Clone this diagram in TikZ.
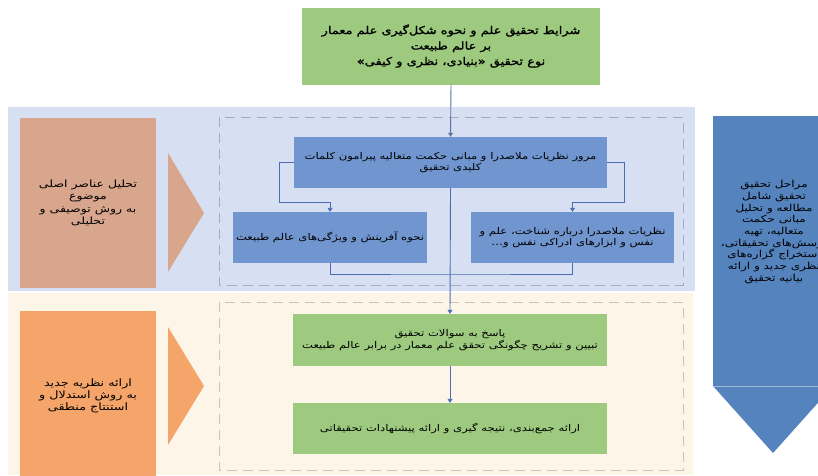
\documentclass[tikz,border=0pt]{standalone}
\usepackage{fontspec}
\TeXXeTstate=1
\newfontfamily\arabicfont[Script=Arabic,FakeStretch=1.25]{DejaVu Sans}
\newfontfamily\arabicbold[Script=Arabic,FakeStretch=1.2,FakeBold=1.2]{DejaVu Sans}
\usetikzlibrary{arrows.meta}
\newcommand\rl[1]{\beginR #1\endR}
\definecolor{bandblue}{HTML}{D7E0F2}
\definecolor{bandbeige}{HTML}{FDF5E7}
\definecolor{boxblue}{HTML}{7095CF}
\definecolor{boxgreen}{HTML}{9DCA7E}
\definecolor{boxbrown}{HTML}{D8A58D}
\definecolor{boxorange}{HTML}{F5A56A}
\definecolor{arrowblue}{HTML}{5483BD}
\definecolor{connblue}{HTML}{4A6DB2}
\definecolor{dashgray}{HTML}{A3ACBF}
\definecolor{dashbeige}{HTML}{C9C3B8}
\tikzset{
  txt/.style={align=center, inner sep=0pt, text=black},
  bluebox/.style={txt, fill=boxblue, font=\arabicfont\fontsize{9.3}{11.8}\selectfont},
  greenbox/.style={txt, fill=boxgreen, font=\arabicfont\fontsize{9.3}{12.5}\selectfont},
  conn/.style={draw=connblue, line width=0.9pt},
  connarrow/.style={conn, -{Triangle[width=5pt,length=4pt]}},
  dashframe/.style={dash pattern=on 10pt off 6pt, line width=0.8pt},
}
\begin{document}
\begin{tikzpicture}[x=1pt,y=-1pt]
\clip (0,0) rectangle (818,475);
\fill[white] (0,0) rectangle (818,475);
% bands
\fill[bandblue] (8,107) rectangle (695,291);
\fill[bandbeige] (8,293) rectangle (693,475);
% dashed frames
\draw[dashframe, draw=dashgray] (219,117) rectangle (683,285);
\draw[dashframe, draw=dashbeige] (219,302) rectangle (683,470);
% top green box
\node[greenbox, minimum width=298pt, minimum height=77pt, font=\arabicbold\fontsize{10.8}{15.5}\selectfont] (top) at (451,46)
  {\rl{شرایط تحقیق علم و نحوه شکل‌گیری علم معمار}\\\rl{بر عالم طبیعت}\\\rl{نوع تحقیق «بنیادی، نظری و کیفی»}};
% left boxes
\node[txt, fill=boxbrown, minimum width=136pt, minimum height=170pt, font=\arabicfont\fontsize{10}{12.3}\selectfont] (brown) at (88,203)
  {\rl{تحلیل عناصر اصلی}\\\rl{موضوع}\\\rl{به روش توصیفی و}\\\rl{تحلیلی}};
\fill[boxbrown] (168,153) -- (204,213) -- (168,272) -- cycle;
\node[txt, fill=boxorange, minimum width=136pt, minimum height=170pt, font=\arabicfont\fontsize{10.2}{12}\selectfont] (orange) at (88,396)
  {\rl{ارائه نظریه جدید}\\\rl{به روش استدلال و}\\\rl{استنتاج منطقی}};
\fill[boxorange] (168,327) -- (204,386) -- (168,445) -- cycle;
% blue boxes
\node[bluebox, minimum width=313pt, minimum height=51pt] (b1) at (450.5,162.5)
  {\rl{مرور نظریات ملاصدرا و مبانی حکمت متعالیه  پیرامون کلمات}\\\rl{کلیدی تحقیق}};
\node[bluebox, minimum width=194pt, minimum height=51pt] (b2) at (330,237.5)
  {\rl{نحوه آفرینش و ویژگی‌های عالم طبیعت}};
\node[bluebox, minimum width=203pt, minimum height=51pt] (b3) at (572.5,237.5)
  {\rl{نظریات ملاصدرا درباره شناخت، علم و}\\\rl{نفس و ابزارهای ادراکی نفس و\dots}};
% green boxes
\node[greenbox, minimum width=314pt, minimum height=52pt] (g1) at (450,340)
  {\rl{پاسخ به سوالات تحقیق}\\\rl{تبیین و تشریح چگونگی تحقق علم معمار در برابر عالم طبیعت}};
\node[greenbox, minimum width=314pt, minimum height=51pt] (g2) at (450,428.5)
  {\rl{ارائه جمع‌بندی، نتیجه گیری و ارائه پیشنهادات تحقیقاتی}};
% right arrow
\fill[arrowblue] (713,116) -- (833,116) -- (833,386) -- (773,453) -- (713,386) -- cycle;
\draw[white, opacity=0.45, line width=0.7pt] (713,386) -- (833,386);
\node[txt, font=\arabicfont\fontsize{9.6}{11.7}\selectfont] (steps) at (774,232)
  {\rl{مراحل تحقیق}\\\rl{تحقیق شامل}\\\rl{مطالعه و تحلیل}\\\rl{مبانی حکمت}\\\rl{متعالیه، تهیه}\\\rl{پرسش‌های تحقیقاتی،}\\\rl{استخراج گزاره‌های}\\\rl{نظری جدید و ارائه}\\\rl{بیانیه تحقیق}};
% connectors
\coordinate (jl) at (279,202);
\coordinate (jr) at (624,202);
\coordinate (ju) at (450,274);
\draw[connarrow, draw=connblue!70!gray] (top.south) -- (b1.north);
\draw[connarrow] (b1.west) -| (jl) -| (b2.north);
\draw[connarrow] (b1.east) -| (jr) -| (b3.north);
\draw[conn] (b2.south) |- (ju) -| (b3.south);
\draw[connarrow] (b1.south) -- (g1.north);
\draw[connarrow] (g1.south) -- (g2.north);
\end{tikzpicture}
\end{document}
